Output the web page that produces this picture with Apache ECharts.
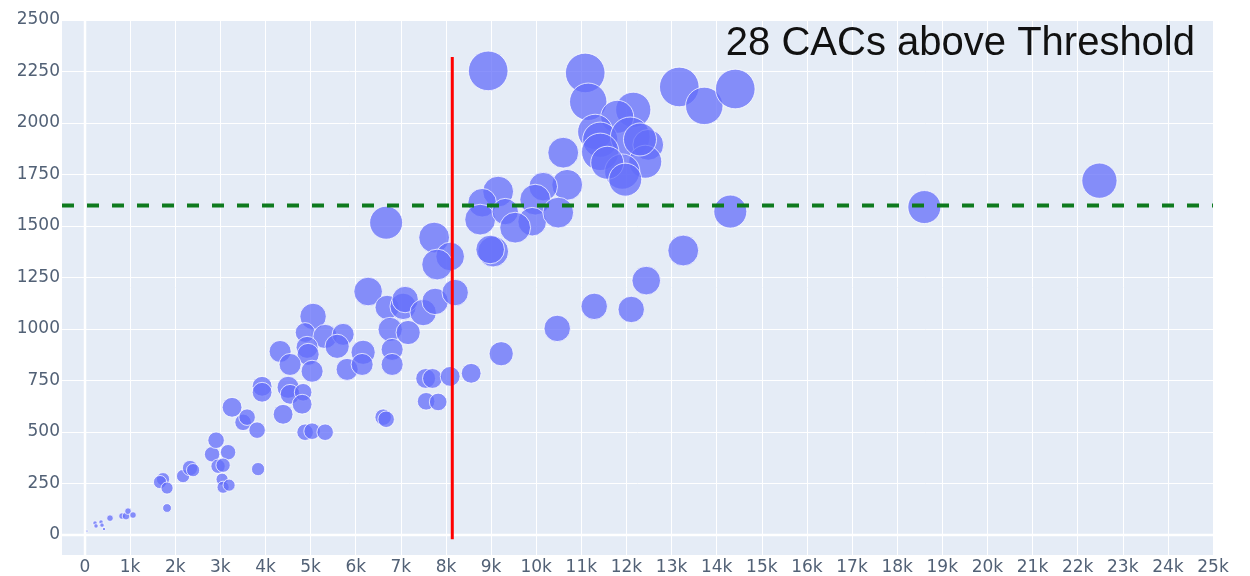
<!DOCTYPE html>
<html>
<head>
<meta charset="utf-8">
<script src="https://cdn.jsdelivr.net/npm/echarts@6/dist/echarts.min.js"></script>
<style>
  html, body { margin: 0; padding: 0; background: #ffffff; }
  #chart { width: 1250px; height: 576px; }
</style>
</head>
<body>
<div id="chart"></div>
<script>
// ---- data ----
const xValues = [44,222,244,355,377,421,554,820,909,953,1064,1818,1729,1663,1818,2173,2328,2395,2816,2905,3171,2949,3060,3038,3060,3193,3259,3503,3592,3814,3836,3925,3925,
  6275,6696,7051,7095,6763,7162,6807,6807,7494,7760,5055,4878,5322,5721,5588,4922,4945,4324,4545,5033,5809,6164,6142,4501,4545,4834,4812,4390,4878,5033,5322,6608,6674,
  6674,7738,8093,7805,8204,7550,7700,8093,8559,7560,7827,9224,10466,11286,12106,12439,13259,14302,
  10599,10687,10155,9978,9911,10488,9157,8803,8758,9313,9534,9046,8980,
  8936,11086,11153,13171,13725,14412,12151,11796,11308,11419,12084,12483,11419,12417,11907,11574,11973,12300,18603,22483];
const yValues = [19,58,44,63,48,29,82,92,92,116,97,131,271,257,228,286,325,315,392,460,402,334,339,271,232,242,620,547,572,509,320,722,693,
  1182,1105,1110,1143,998,983,901,828,1080,1134,1061,983,964,974,916,911,877,891,828,795,804,887,828,717,683,693,635,586,499,504,499,572,562,
  1516,1444,1352,1313,1177,760,760,770,785,649,646,880,1003,1110,1095,1235,1381,1570,
  1856,1700,1691,1628,1521,1565,1667,1613,1531,1570,1492,1376,1386,
  2253,2243,2103,2175,2083,2165,2064,2030,1957,1919,1933,1894,1860,1812,1764,1807,1725,1920,1592,1720];
const bubbleSizes = [2,4,4,4,4,3,6,6,7,6,6,8,12,12,11,12,14,12,14,15,14,13,13,11,11,11,18,15,15,15,12,18,18,
  26,22,24,24,22,22,20,20,24,24,24,18,22,20,22,20,20,20,20,20,20,22,20,20,18,16,18,18,15,15,15,15,15,
  30,28,26,28,24,18,18,18,18,16,16,22,24,24,24,26,28,30,
  28,28,26,28,26,28,28,26,28,24,28,28,26,
  36,36,34,36,34,36,32,30,32,32,36,28,34,30,32,30,30,30,30,32];
const xTicks = [0,1000,2000,3000,4000,5000,6000,7000,8000,9000,10000,11000,12000,13000,14000,15000,16000,17000,18000,19000,20000,21000,22000,23000,24000,25000];
const yTicks = [0,250,500,750,1000,1250,1500,1750,2000,2250,2500];
const thresholdY = 1600;
const cutoffX = 8140;
const cutoffSpan = [-20, 2320];
const xRange = [-510, 25000];
const yRange = [-97, 2500];
const annotation = '28 CACs above Threshold';

const points = xValues.map((x, i) => [x, yValues[i], bubbleSizes[i]]);

const labelStyle = { color: '#526176', fontSize: 17, fontFamily: '"DejaVu Sans", Verdana, sans-serif' };

const chart = echarts.init(document.getElementById('chart'));
chart.setOption({
  animation: false,
  backgroundColor: '#ffffff',
  grid: { left: 62, right: 37, top: 20, bottom: 20, show: true, backgroundColor: '#e5ecf6', borderWidth: 0 },
  xAxis: {
    type: 'value', min: xRange[0], max: xRange[1],
    axisLine: { show: false },
    axisTick: { show: false, customValues: xTicks },
    axisLabel: Object.assign({ customValues: xTicks, margin: 4,
      formatter: v => v === 0 ? '0' : (v / 1000) + 'k' }, labelStyle),
    splitLine: { show: true, lineStyle: { color: '#ffffff', width: 1 } }
  },
  yAxis: {
    type: 'value', min: yRange[0], max: yRange[1],
    axisLine: { show: false },
    axisTick: { show: false, customValues: yTicks },
    axisLabel: Object.assign({ customValues: yTicks, margin: 2, formatter: v => String(v) }, labelStyle),
    splitLine: { show: true, lineStyle: { color: '#ffffff', width: 1 } }
  },
  title: {
    text: annotation, right: 50, top: 19,
    textStyle: { color: '#111111', fontSize: 40, fontWeight: 'normal', fontFamily: '"Liberation Sans", Arial, sans-serif' }
  },
  series: [
    {
      type: 'line', data: [[xRange[0], 0], [xRange[1], 0]], symbol: 'none', silent: true,
      lineStyle: { color: '#ffffff', width: 2.5 }, z: 1
    },
    {
      type: 'line', data: [[0, yRange[0]], [0, yRange[1]]], symbol: 'none', silent: true,
      lineStyle: { color: '#ffffff', width: 2.5 }, z: 1
    },
    {
      type: 'scatter', data: points,
      symbolSize: d => d[2] * 1.1,
      itemStyle: { color: '#636efa', opacity: 0.75, borderColor: '#ffffff', borderWidth: 1 },
      z: 3
    },
    {
      type: 'line', data: [[xRange[0], thresholdY], [xRange[1], thresholdY]], symbol: 'none', silent: true,
      lineStyle: { color: '#0e7a1e', width: 4, type: [12, 13] }, z: 4
    },
    {
      type: 'line', data: [[cutoffX, cutoffSpan[0]], [cutoffX, cutoffSpan[1]]], symbol: 'none', silent: true,
      lineStyle: { color: '#ff0000', width: 3 }, z: 5
    }
  ]
});
</script>
</body>
</html>
